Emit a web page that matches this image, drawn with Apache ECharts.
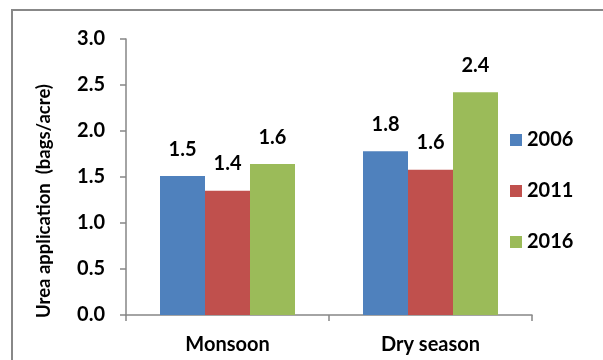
<!DOCTYPE html>
<html>
<head>
<meta charset="utf-8">
<script src="https://cdn.jsdelivr.net/npm/echarts@6/dist/echarts.min.js"></script>
<style>
  html, body { margin: 0; padding: 0; background: #ffffff; }
  #chart { width: 603px; height: 360px; }
</style>
</head>
<body>
<div id="chart"></div>
<script>
// Urea use per acre by season and survey year
const seasons = ['Monsoon', 'Dry season'];
const years = ['2006', '2011', '2016'];
const urea2006 = [1.51, 1.78];
const urea2011 = [1.35, 1.58];
const urea2016 = [1.64, 2.42];
const yearColors = ['#4F81BD', '#C0504D', '#9BBB59'];

const font = 'Lato, "Open Sans", sans-serif';
const axisGray = '#868686';

const chart = echarts.init(document.getElementById('chart'));

function makeSeries(name, values, color) {
  return {
    name: name,
    type: 'bar',
    data: values,
    barGap: '0%',
    barCategoryGap: '33.5%',
    itemStyle: { color: color },
    label: {
      show: true,
      position: 'top',
      distance: 17,
      fontFamily: font,
      fontWeight: 'bold',
      fontSize: 20,
      color: '#000',
      formatter: p => p.value.toFixed(1)
    }
  };
}

chart.setOption({
  animation: false,
  backgroundColor: '#ffffff',
  graphic: [{
    type: 'rect',
    shape: { x: 12, y: 10, width: 700, height: 500 },
    style: { fill: 'none', stroke: '#888888', lineWidth: 2 },
    silent: true,
    z: -1
  }],
  grid: { left: 126, right: 71, top: 39, bottom: 45 },
  legend: {
    orient: 'vertical',
    left: 505,
    top: 125,
    itemWidth: 12,
    itemHeight: 12,
    itemGap: 31,
    icon: 'rect',
    data: years,
    textStyle: {
      fontFamily: font,
      fontWeight: 'bold',
      fontSize: 20,
      lineHeight: 20,
      color: '#000'
    }
  },
  xAxis: {
    type: 'category',
    data: seasons,
    axisLine: { lineStyle: { color: axisGray, width: 1.5 } },
    axisTick: { show: true, length: 6, lineStyle: { color: axisGray, width: 1.5 } },
    axisLabel: {
      margin: 20,
      fontFamily: font,
      fontWeight: 'bold',
      fontSize: 20,
      color: '#000'
    }
  },
  yAxis: {
    type: 'value',
    min: 0,
    max: 3,
    interval: 0.5,
    name: 'Urea application  (bags/acre)',
    nameLocation: 'middle',
    nameGap: 72,
    nameTextStyle: {
      fontFamily: font,
      fontWeight: 'bold',
      fontSize: 18.5,
      color: '#000',
      padding: [0, 48, 0, 0]
    },
    axisLine: { show: true, lineStyle: { color: axisGray, width: 1.5 } },
    axisTick: { show: true, length: 6, lineStyle: { color: axisGray, width: 1.5 } },
    splitLine: { show: false },
    axisLabel: {
      margin: 21,
      fontFamily: font,
      fontWeight: 'bold',
      fontSize: 20,
      color: '#000',
      formatter: v => v.toFixed(1)
    }
  },
  series: [
    makeSeries(years[0], urea2006, yearColors[0]),
    makeSeries(years[1], urea2011, yearColors[1]),
    makeSeries(years[2], urea2016, yearColors[2])
  ]
});
</script>
</body>
</html>
